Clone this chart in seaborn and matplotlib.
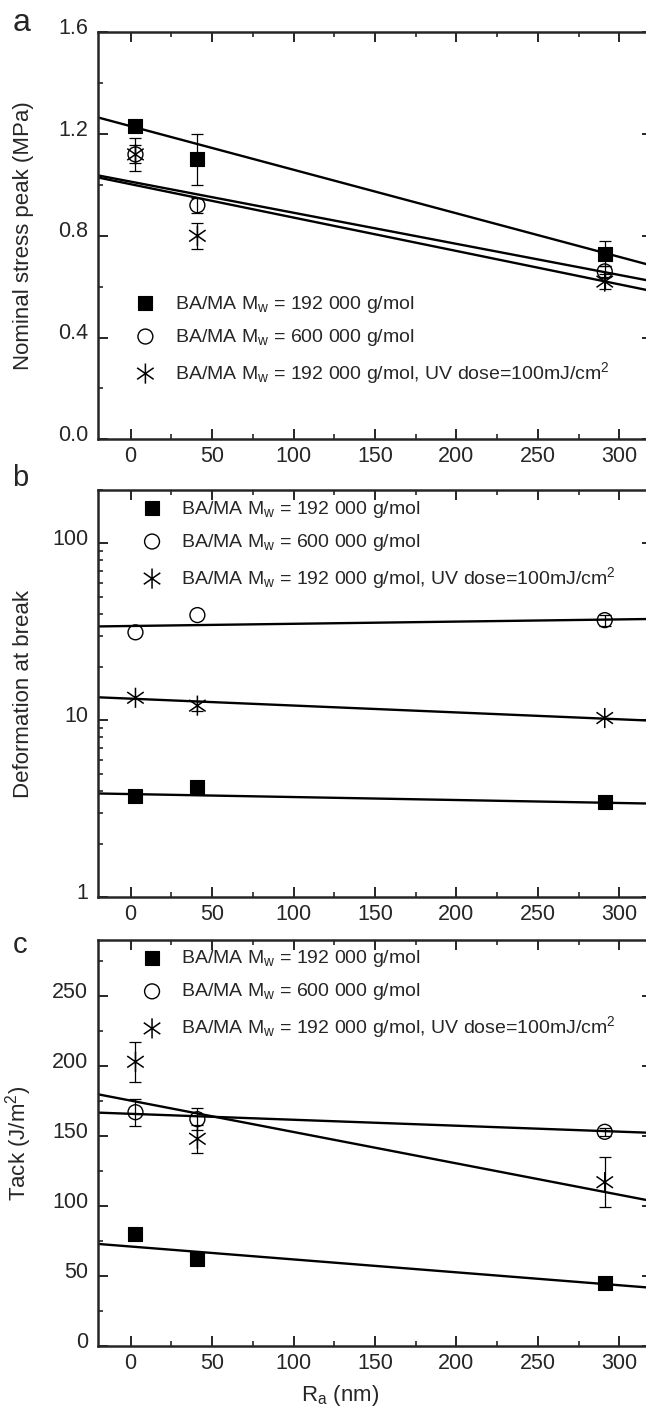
import numpy as np
import pandas as pd
import matplotlib
matplotlib.use("Agg")
import matplotlib.pyplot as plt
import seaborn as sns
from matplotlib.path import Path
from matplotlib.ticker import AutoMinorLocator, FuncFormatter, NullFormatter, LogLocator, FixedLocator
from matplotlib.transforms import ScaledTranslation

# ---- data -------------------------------------------------------------
ra_nm = [3, 41, 291]

series_labels = [
    r"BA/MA M$_w$ = 192 000 g/mol",
    r"BA/MA M$_w$ = 600 000 g/mol",
    r"BA/MA M$_w$ = 192 000 g/mol, UV dose=100mJ/cm$^2$",
]

# (a) nominal stress peak, MPa
stress_192k = [1.23, 1.10, 0.73]
stress_192k_err = [0.0, 0.10, 0.05]
stress_600k = [1.12, 0.92, 0.66]
stress_600k_err = [0.035, 0.03, 0.02]
stress_uv = [1.12, 0.80, 0.62]
stress_uv_err = [0.065, 0.05, 0.03]

# (b) deformation at break
deform_192k = [3.72, 4.2, 3.46]
deform_192k_err = [0.0, 0.0, 0.0]
deform_600k = [31.4, 39.3, 36.8]
deform_600k_err = [0.0, 0.0, 2.5]
deform_uv = [13.4, 12.1, 10.3]
deform_uv_err = [0.0, 0.8, 0.0]

# (c) tack, J/m^2
tack_192k = [80, 62, 45]
tack_192k_err = [0.0, 0.0, 0.0]
tack_600k = [167, 162, 153]
tack_600k_err = [9.5, 8.0, 3.0]
tack_uv = [203, 148, 117]
tack_uv_err = [14.5, 10.0, 18.0]

# linear trend lines: value at Ra = 0 nm and at Ra = 300 nm
stress_fit_0 = [1.231, 1.013, 1.003]
stress_fit_300 = [0.717, 0.646, 0.609]
deform_fit_0 = [3.83, 34.1, 13.25]
deform_fit_300 = [3.41, 37.15, 10.13]
tack_fit_0 = [71.06, 165.85, 175.3]
tack_fit_300 = [43.4, 153.1, 108.0]

x_ticks = [0, 50, 100, 150, 200, 250, 300]

# ---- style ------------------------------------------------------------
sns.set_theme(style="ticks")
plt.rcParams["font.family"] = ["Liberation Sans", "DejaVu Sans"]
plt.rcParams["mathtext.fontset"] = "custom"
plt.rcParams["mathtext.rm"] = "Liberation Sans"
plt.rcParams["mathtext.it"] = "Liberation Sans:italic"
plt.rcParams["mathtext.default"] = "regular"
plt.rcParams["axes.linewidth"] = 1.8

TICK_FS = 15.5
LABEL_FS = 16
LEGEND_FS = 14

star_path = Path(
    [(0, -1), (0, 1), (-0.82, -0.57), (0.82, 0.57), (-0.82, 0.57), (0.82, -0.57)],
    [Path.MOVETO, Path.LINETO, Path.MOVETO, Path.LINETO, Path.MOVETO, Path.LINETO],
)

marker_styles = [
    dict(marker="s", s=100, facecolor="black", edgecolor="black", linewidth=0.8),
    dict(marker="o", s=115, facecolor="none", edgecolor="black", linewidth=1.0),
    dict(marker=star_path, s=210, facecolor="none", edgecolor="black", linewidth=1.1),
]

W, H = 646, 1409
fig = plt.figure(figsize=(W / 100, H / 100), dpi=100)


def add_panel(top_px, bottom_px):
    left_px, right_px = 98, 652
    return fig.add_axes([left_px / W, 1 - bottom_px / H,
                         (right_px - left_px) / W, (bottom_px - top_px) / H])


def draw_panel(ax, values, errors, fit0, fit300, log=False):
    xs = np.array([-20, 320])
    for k in range(3):
        y0, y3 = fit0[k], fit300[k]
        if log:
            ys = y0 * (y3 / y0) ** (xs / 300)
        else:
            ys = y0 + (y3 - y0) * xs / 300
        sns.lineplot(x=xs, y=ys, color="black", linewidth=1.7, ax=ax,
                     legend=False, zorder=1, sort=False)
    for k in range(3):
        v = np.array(values[k], float)
        e = np.array(errors[k], float)
        m = e > 0
        if m.any():
            ax.errorbar(np.array(ra_nm)[m], v[m], yerr=e[m], fmt="none",
                        ecolor="black", elinewidth=0.9, capsize=4,
                        capthick=0.9, zorder=2)
        df = pd.DataFrame({"Ra": ra_nm, "val": v})
        sns.scatterplot(data=df, x="Ra", y="val", ax=ax, label=series_labels[k],
                        zorder=3, **marker_styles[k])
    ax.set_xlim(-20, 320)
    ax.set_xticks(x_ticks)
    ax.xaxis.set_minor_locator(AutoMinorLocator(2))
    ax.tick_params(which="both", direction="in", top=True, right=True,
                   labelsize=TICK_FS)
    ax.tick_params(which="major", length=7, width=1.4)
    ax.tick_params(which="minor", length=3.6, width=1.2)
    ax.tick_params(axis="y", pad=7)
    ax.tick_params(axis="x", pad=5)
    ax.set_xlabel("")
    ax.set_ylabel("")


def add_legend(ax, anchor):
    ax.legend(loc="center left", bbox_to_anchor=anchor, frameon=False,
              fontsize=LEGEND_FS, handlelength=1.0, handletextpad=1.0,
              labelspacing=0.62, borderpad=0, borderaxespad=0)


def lift_ytick_labels(ax):
    shift = ScaledTranslation(0, 0.065, fig.dpi_scale_trans)
    for lab in ax.get_yticklabels():
        lab.set_transform(lab.get_transform() + shift)


# (a)
ax_a = add_panel(32.3, 439.3)
draw_panel(ax_a, [stress_192k, stress_600k, stress_uv],
           [stress_192k_err, stress_600k_err, stress_uv_err],
           stress_fit_0, stress_fit_300)
ax_a.set_ylim(0, 1.6)
ax_a.set_yticks([0.0, 0.4, 0.8, 1.2, 1.6])
ax_a.yaxis.set_major_formatter(FuncFormatter(lambda v, p: f"{v:.1f}"))
ax_a.yaxis.set_minor_locator(AutoMinorLocator(2))
ax_a.set_ylabel("Nominal stress peak (MPa)", fontsize=LABEL_FS)
add_legend(ax_a, (0.068, 0.245))

# (b)
ax_b = add_panel(490, 897.3)
draw_panel(ax_b, [deform_192k, deform_600k, deform_uv],
           [deform_192k_err, deform_600k_err, deform_uv_err],
           deform_fit_0, deform_fit_300, log=True)
ax_b.set_yscale("log")
ax_b.set_ylim(1, 200)
ax_b.yaxis.set_major_locator(FixedLocator([1, 10, 100]))
ax_b.yaxis.set_major_formatter(FuncFormatter(lambda v, p: f"{v:g}"))
ax_b.yaxis.set_minor_locator(LogLocator(base=10, subs=np.arange(2, 10)))
ax_b.yaxis.set_minor_formatter(NullFormatter())
ax_b.set_ylabel("Deformation at break", fontsize=LABEL_FS)
add_legend(ax_b, (0.080, 0.866))

# (c)
ax_c = add_panel(940, 1346)
draw_panel(ax_c, [tack_192k, tack_600k, tack_uv],
           [tack_192k_err, tack_600k_err, tack_uv_err],
           tack_fit_0, tack_fit_300)
ax_c.set_ylim(0, 290)
ax_c.set_yticks([0, 50, 100, 150, 200, 250])
ax_c.yaxis.set_minor_locator(AutoMinorLocator(2))
ax_c.set_ylabel("Tack (J/m$^2$)", fontsize=LABEL_FS)
ax_c.set_xlabel("R$_a$ (nm)", fontsize=LABEL_FS)
ax_c.xaxis.set_label_coords(0.437, -0.09)
add_legend(ax_c, (0.080, 0.866))

for ax in (ax_a, ax_b, ax_c):
    ax.yaxis.set_label_coords(-0.115, 0.5)
    lift_ytick_labels(ax)
    for side in ("top", "right", "left", "bottom"):
        ax.spines[side].set_visible(True)

# panel letters
fig.text(13 / W, 1 - 31 / H, "a", fontsize=23, ha="left", va="baseline")
fig.text(12 / W, 1 - 486 / H, "b", fontsize=21, ha="left", va="baseline")
fig.text(13 / W, 1 - 953 / H, "c", fontsize=21, ha="left", va="baseline")

fig.savefig("out.png", dpi=100)
